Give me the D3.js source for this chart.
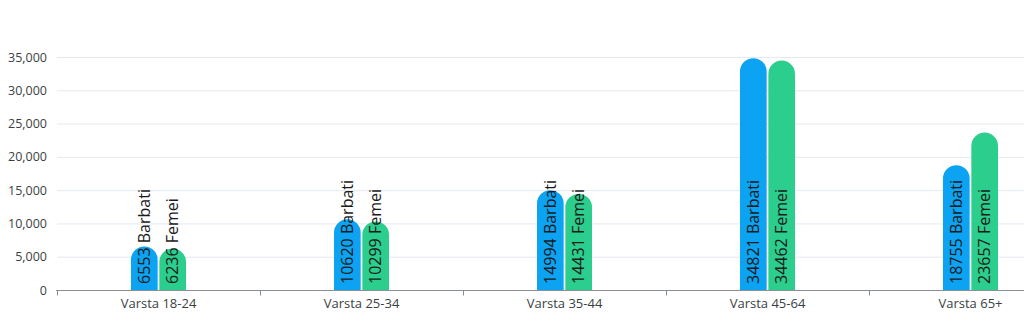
<!DOCTYPE html>
<html>
<head>
<meta charset="utf-8">
<script src="https://cdn.jsdelivr.net/npm/d3@7"></script>
<style>
  html, body { margin: 0; padding: 0; background: #fff; }
  svg { display: block; font-family: "Open Sans", "Noto Sans", sans-serif; }
</style>
</head>
<body>
<svg id="chart" width="1024" height="335"></svg>
<script>
// Population by age group, split by sex
const categories = ["Varsta 18-24", "Varsta 25-34", "Varsta 35-44", "Varsta 45-64", "Varsta 65+"];
const seriesNames = ["Barbati", "Femei"];
const barbati = [6553, 10620, 14994, 34821, 18755];
const femei = [6236, 10299, 14431, 34462, 23657];
const yTicks = [0, 5000, 10000, 15000, 20000, 25000, 30000, 35000];
const colors = ["#0BA3F2", "#2BCE8C"];

const svg = d3.select("#chart");
const plotLeft = 57, plotRight = 1072, plotTop = 57, plotBottom = 290;

const x0 = d3.scaleBand().domain(categories).range([plotLeft, plotRight]);
const x1 = d3.scaleBand().domain(seriesNames).range([-27.5, 27.5]).paddingInner(0.06);
const y = d3.scaleLinear().domain([0, 35000]).range([plotBottom, plotTop]);

// horizontal gridlines
svg.append("g").selectAll("line").data(yTicks.filter(d => d > 0)).join("line")
  .attr("x1", plotLeft).attr("x2", 1024)
  .attr("y1", d => y(d) + 0.5).attr("y2", d => y(d) + 0.5)
  .attr("stroke", "#e4e8f0").attr("stroke-width", 1);

// y axis labels
const yAxis = d3.axisLeft(y).tickValues(yTicks).tickFormat(d3.format(",")).tickSize(0).tickPadding(10);
const gy = svg.append("g").attr("transform", `translate(${plotLeft},0)`).call(yAxis);
gy.select(".domain").remove();
gy.selectAll("text").attr("font-size", 12.5).attr("fill", "#3a3f44")
  .attr("font-family", "'Open Sans', 'Noto Sans', sans-serif");

// rounded-top bar shape
function barPath(x, w, yTop, yBase) {
  const r = w / 2;
  const h = yBase - yTop;
  const rr = Math.min(r, h);
  return `M${x},${yBase}V${yTop + rr}A${r},${rr} 0 0 1 ${x + w},${yTop + rr}V${yBase}Z`;
}

const rows = categories.map((c, i) => ({ cat: c, values: [barbati[i], femei[i]] }));

const groups = svg.append("g").selectAll("g").data(rows).join("g")
  .attr("transform", d => `translate(${x0(d.cat) + x0.bandwidth() / 2},0)`);

groups.selectAll("path").data(d => d.values.map((v, j) => ({ v, s: seriesNames[j], j }))).join("path")
  .attr("d", d => barPath(x1(d.s), x1.bandwidth(), y(d.v), y(0)))
  .attr("fill", d => colors[d.j]);

groups.selectAll("text").data(d => d.values.map((v, j) => ({ v, s: seriesNames[j], j }))).join("text")
  .attr("transform", d => `translate(${x1(d.s) + x1.bandwidth() / 2},${y(0) - 6}) rotate(-90)`)
  .attr("dy", "0.36em")
  .attr("text-anchor", "start")
  .attr("font-size", 16)
  .attr("fill", "#1a1a1a")
  .text(d => `${d.v} ${d.s}`);

// x axis
const xAxis = d3.axisBottom(x0).tickSize(0).tickPadding(8);
const gx = svg.append("g").attr("transform", `translate(0,${plotBottom + 0.5})`).call(xAxis);
gx.select(".domain").attr("stroke", "#8a8f96").attr("d", `M${plotLeft - 1},0H1024`);
gx.selectAll("text").attr("font-size", 13).attr("fill", "#3a3f44")
  .attr("font-family", "'Open Sans', 'Noto Sans', sans-serif");
gx.selectAll(".edge").data(categories).join("line").attr("class", "edge")
  .attr("x1", d => x0(d) + 0.5).attr("x2", d => x0(d) + 0.5)
  .attr("y1", 0).attr("y2", 5).attr("stroke", "#8a8f96");
</script>
</body>
</html>
